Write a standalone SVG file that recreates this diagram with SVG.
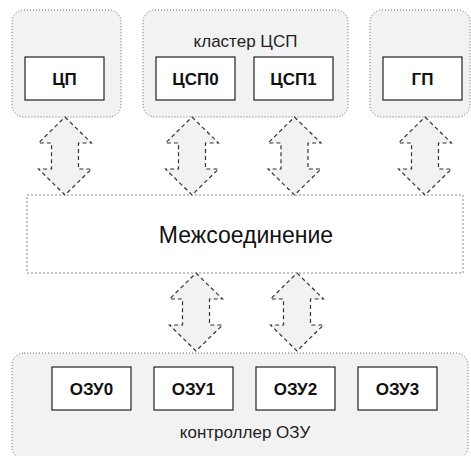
<svg xmlns="http://www.w3.org/2000/svg" width="471" height="456" viewBox="0 0 471 456">
  <style>
    .grp { fill: #f2f2f2; stroke: #666; stroke-width: 1; stroke-dasharray: 1 2; }
    .bus { fill: #ffffff; stroke: #888; stroke-width: 1; stroke-dasharray: 2 2; }
    .box { fill: #ffffff; stroke: #222; stroke-width: 1.2; }
    .lbl { font-family: "Liberation Sans", Arial, sans-serif; font-size: 17px; font-weight: bold; fill: #111; text-anchor: middle; }
    .cap { font-family: "Liberation Sans", Arial, sans-serif; font-size: 17px; fill: #222; text-anchor: middle; }
    .big { font-family: "Liberation Sans", Arial, sans-serif; font-size: 23px; fill: #111; text-anchor: middle; }
    .arr { fill: #f2f2f2; stroke: #333; stroke-width: 1.2; stroke-dasharray: 4 3; stroke-linejoin: miter; }
  </style>
  <defs>
    <!-- double-headed block arrow, centred on x=0, spanning 0..78 -->
    <path id="dblArrow" d="M0,0 L26.5,26 L13.5,26 L13.5,52 L26.5,52 L0,78 L-26.5,52 L-13.5,52 L-13.5,26 L-26.5,26 Z"/>
  </defs>

  <!-- processor groups -->
  <g id="cpu-group">
    <rect class="grp" x="12" y="10" width="109" height="107" rx="12"/>
    <g id="cpu">
      <rect class="box" x="25" y="57" width="79" height="43"/>
      <text class="lbl" x="64.5" y="85">ЦП</text>
    </g>
  </g>

  <g id="dsp-cluster">
    <rect class="grp" x="143" y="10" width="205" height="107" rx="12"/>
    <text class="cap" x="245.5" y="47">кластер ЦСП</text>
    <g id="dsp0">
      <rect class="box" x="156" y="57" width="79" height="43"/>
      <text class="lbl" x="195.5" y="85">ЦСП0</text>
    </g>
    <g id="dsp1">
      <rect class="box" x="254" y="57" width="79" height="43"/>
      <text class="lbl" x="293.5" y="85">ЦСП1</text>
    </g>
  </g>

  <g id="gpu-group">
    <rect class="grp" x="370" y="10" width="100" height="107" rx="12"/>
    <g id="gpu">
      <rect class="box" x="383" y="57" width="79" height="43"/>
      <text class="lbl" x="422.5" y="85">ГП</text>
    </g>
  </g>

  <!-- interconnect -->
  <g id="interconnect">
    <rect class="bus" x="27" y="195" width="436" height="78"/>
    <text class="big" x="246" y="243">Межсоединение</text>
  </g>

  <!-- memory controller -->
  <g id="mem-controller">
    <rect class="grp" x="12" y="353" width="456" height="106" rx="12"/>
    <text class="cap" x="245" y="438">контроллер ОЗУ</text>
    <g id="ram0">
      <rect class="box" x="52" y="367" width="79" height="43"/>
      <text class="lbl" x="91.5" y="395">ОЗУ0</text>
    </g>
    <g id="ram1">
      <rect class="box" x="154" y="367" width="79" height="43"/>
      <text class="lbl" x="193.5" y="395">ОЗУ1</text>
    </g>
    <g id="ram2">
      <rect class="box" x="256" y="367" width="79" height="43"/>
      <text class="lbl" x="295.5" y="395">ОЗУ2</text>
    </g>
    <g id="ram3">
      <rect class="box" x="358" y="367" width="79" height="43"/>
      <text class="lbl" x="397.5" y="395">ОЗУ3</text>
    </g>
  </g>

  <!-- bidirectional links -->
  <g id="connectors">
    <use href="#dblArrow" class="arr" transform="translate(65,117)"/>
    <use href="#dblArrow" class="arr" transform="translate(192,117)"/>
    <use href="#dblArrow" class="arr" transform="translate(294.5,117)"/>
    <use href="#dblArrow" class="arr" transform="translate(425,117)"/>
    <use href="#dblArrow" class="arr" transform="translate(196,273)"/>
    <use href="#dblArrow" class="arr" transform="translate(297,273)"/>
  </g>
</svg>
